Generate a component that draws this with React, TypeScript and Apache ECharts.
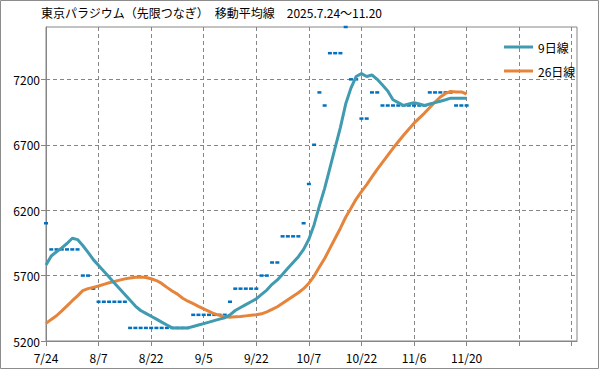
import React, { useEffect, useRef } from "react";
import * as echarts from "echarts";

const dates = [
  "7/24","7/25","7/28","7/29","7/30","7/31","8/1","8/4","8/5","8/6",
  "8/7","8/8","8/12","8/13","8/14","8/15","8/18","8/19","8/20","8/21",
  "8/22","8/25","8/26","8/27","8/28","8/29","9/1","9/2","9/3","9/4",
  "9/5","9/8","9/9","9/10","9/11","9/12","9/16","9/17","9/18","9/19",
  "9/22","9/24","9/25","9/26","9/29","9/30","10/1","10/2","10/3","10/6",
  "10/7","10/8","10/9","10/10","10/14","10/15","10/16","10/17","10/20","10/21",
  "10/22","10/23","10/24","10/27","10/28","10/29","10/30","10/31","11/4","11/5",
  "11/6","11/7","11/10","11/11","11/12","11/13","11/14","11/17","11/18","11/19",
  "11/20",
];
// empty slots after the last date, as in the original axis
const blankSlots = 21;

const prices = [
  6100, 5900, 5900, 5900, 5900, 5900, 5900, 5700, 5700, 5600,
  5500, 5500, 5500, 5500, 5500, 5500, 5300, 5300, 5300, 5300,
  5300, 5300, 5300, 5300, 5300, 5300, 5300, 5300, 5400, 5400,
  5400, 5400, 5400, 5400, 5400, 5500, 5600, 5600, 5600, 5600,
  5600, 5700, 5700, 5800, 5800, 6000, 6000, 6000, 6000, 6100,
  6400, 6700, 7100, 7000, 7400, 7400, 7400, 7600, 7200, 7200,
  6900, 6900, 7100, 7100, 7000, 7000, 7000, 7000, 7000, 7000,
  7000, 7000, 7000, 7100, 7100, 7100, 7100, 7100, 7000, 7000,
  7000,
];

const ma9 = [
  5780, 5850, 5882, 5912, 5945, 5985, 5975, 5930,
  5878, 5822, 5778, 5733, 5689, 5644, 5600, 5556,
  5511, 5467, 5433, 5411, 5389, 5367, 5344, 5322,
  5300, 5300, 5300, 5300, 5311, 5322, 5333, 5344,
  5356, 5367, 5378, 5400, 5433, 5456, 5478, 5500,
  5522, 5556, 5589, 5633, 5667, 5711, 5756, 5800,
  5844, 5900, 5978, 6089, 6233, 6367, 6522, 6678,
  6833, 7011, 7133, 7222, 7244, 7222, 7233, 7200,
  7156, 7111, 7044, 7022, 7000, 7011, 7022, 7011,
  7000, 7011, 7022, 7033, 7044, 7056, 7056, 7056,
  7056,
];

const ma26 = [
  5335, 5365, 5393, 5430, 5468, 5508, 5545, 5585,
  5600, 5610, 5620, 5633, 5645, 5655, 5665, 5675,
  5682, 5688, 5690, 5685, 5676, 5662, 5640, 5610,
  5582, 5558, 5527, 5504, 5485, 5465, 5446, 5427,
  5408, 5396, 5385, 5381, 5385, 5388, 5392, 5396,
  5400, 5408, 5423, 5442, 5462, 5488, 5515, 5542,
  5569, 5600, 5642, 5696, 5765, 5831, 5908, 5985,
  6062, 6146, 6215, 6285, 6342, 6396, 6454, 6512,
  6565, 6619, 6673, 6723, 6773, 6819, 6865, 6904,
  6942, 6985, 7027, 7065, 7092, 7108, 7104, 7104,
  7088,
];

const yTicks = [5200, 5700, 6200, 6700, 7200];
const seriesNames = ["9日線", "26日線"];
const titleMain = "東京パラジウム（先限つなぎ）　移動平均線　";
const titleDate = "2025.7.24〜11.20";

const FONT = '"Noto Sans CJK JP", "Noto Sans", sans-serif';
const GRID = "#868686";

export default function App() {
  const ref = useRef<HTMLDivElement>(null);

  useEffect(() => {
    if (!ref.current) return;
    const chart = echarts.init(ref.current, null, { renderer: "svg" });
    const categories = dates.concat(new Array(blankSlots).fill(""));
    chart.setOption({
      animation: false,
      textStyle: { fontFamily: FONT },
      grid: {
        left: 46,
        right: 22,
        top: 27,
        bottom: 28,
        show: true,
        borderColor: GRID,
        borderWidth: 1,
      },
      xAxis: {
        type: "category",
        data: categories,
        boundaryGap: false,
        axisLine: { lineStyle: { color: GRID } },
        axisTick: { show: true, interval: 9, length: 5, lineStyle: { color: GRID } },
        axisLabel: { interval: 9, color: "#000", fontSize: 12, margin: 10, fontFamily: FONT },
        splitLine: { show: true, interval: 9, lineStyle: { type: [4, 3], color: GRID } },
      },
      yAxis: {
        type: "value",
        min: 5200,
        max: 7600,
        interval: 500,
        axisLine: { show: true, lineStyle: { color: GRID } },
        axisTick: { show: true, length: 5, customValues: yTicks, lineStyle: { color: GRID } },
        axisLabel: {
          customValues: yTicks,
          color: "#000",
          fontSize: 12,
          margin: 6,
          fontFamily: FONT,
          formatter: (v: number) => String(v),
        },
        splitLine: { show: true, lineStyle: { type: [4, 3], color: GRID } },
      },
      legend: {
        data: seriesNames,
        orient: "vertical",
        left: 499,
        top: 35,
        itemWidth: 29,
        itemHeight: 3,
        itemGap: 10,
        icon: "rect",
        textStyle: { color: "#000", fontSize: 12, fontFamily: FONT, lineHeight: 14 },
      },
      graphic: [
        {
          type: "rect",
          shape: { x: 0.5, y: 0.5, width: 598, height: 368 },
          style: { fill: "none", stroke: "#8c8c8c", lineWidth: 1 },
          silent: true,
        },
        {
          type: "text",
          left: 41,
          top: 6,
          style: {
            text: titleMain + titleDate,
            font: `12px ${FONT}`,
            fill: "#000",
          },
        },
      ],
      series: [
        {
          name: "終値",
          type: "line",
          data: prices,
          symbol: "rect",
          symbolSize: [4, 2.5],
          showSymbol: true,
          showAllSymbol: true,
          lineStyle: { opacity: 0, width: 0 },
          itemStyle: { color: "#0070C0" },
          z: 1,
        },
        {
          name: seriesNames[0],
          type: "line",
          data: ma9,
          showSymbol: false,
          symbol: "none",
          lineStyle: { color: "#419BB0", width: 3 },
          itemStyle: { color: "#419BB0" },
          z: 3,
        },
        {
          name: seriesNames[1],
          type: "line",
          data: ma26,
          showSymbol: false,
          symbol: "none",
          lineStyle: { color: "#E5843A", width: 3 },
          itemStyle: { color: "#E5843A" },
          z: 2,
        },
      ],
    });
    return () => chart.dispose();
  }, []);

  return (
    <div
      ref={ref}
      style={{ position: "fixed", left: 0, top: 0, width: 599, height: 369, background: "#fff" }}
    />
  );
}
